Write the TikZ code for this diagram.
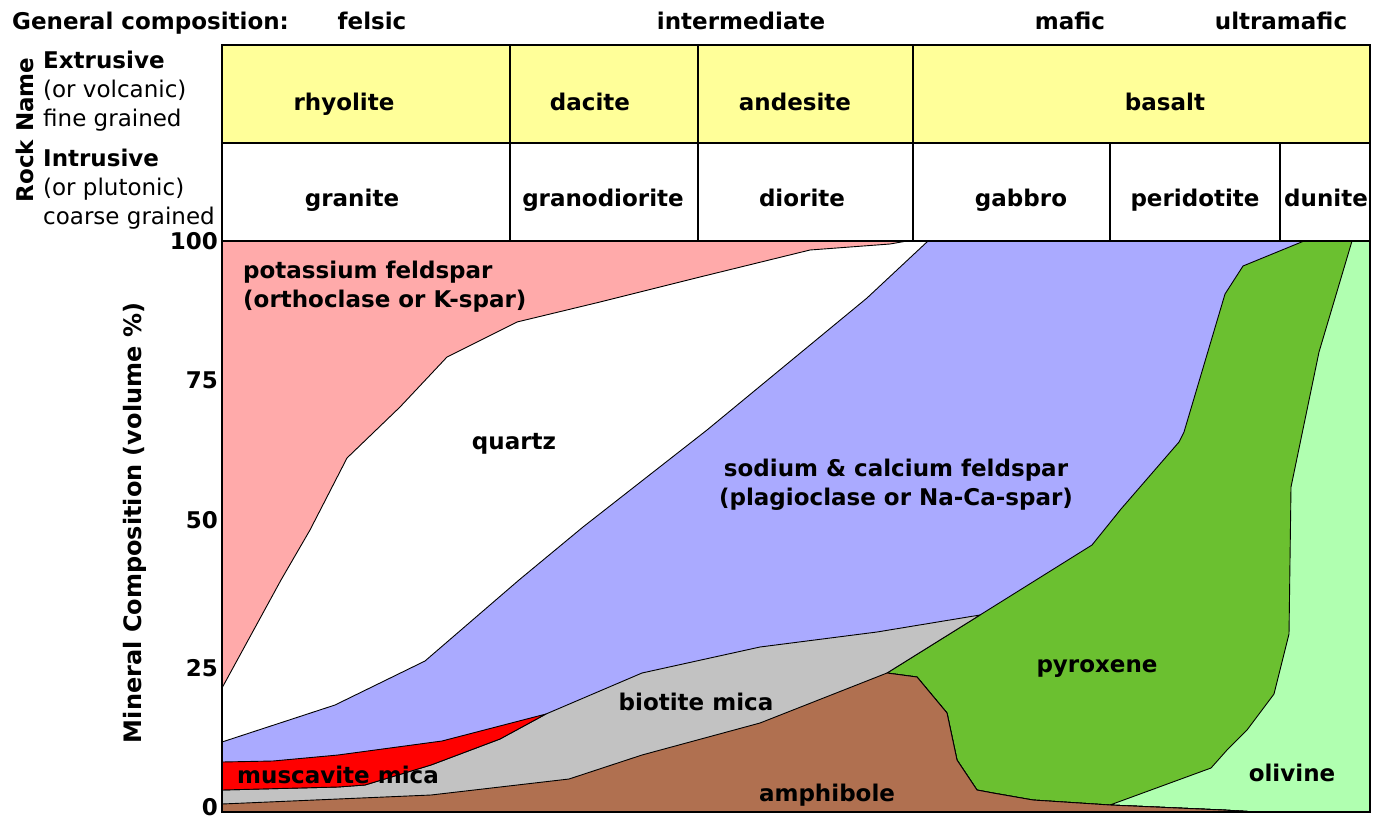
\documentclass[tikz,border=0pt]{standalone}
\usepackage{fontspec}
\setmainfont{DejaVu Sans}
\definecolor{kspar}{RGB}{255,170,170}
\definecolor{plag}{RGB}{170,170,255}
\definecolor{musc}{RGB}{255,0,0}
\definecolor{biot}{RGB}{194,194,194}
\definecolor{amph}{RGB}{176,112,80}
\definecolor{pyrox}{RGB}{107,192,48}
\definecolor{oliv}{RGB}{176,255,176}
\definecolor{volc}{RGB}{255,255,153}
\begin{document}
\begin{tikzpicture}[x=1pt, y=-1pt]
	\tikzstyle{lbl}=[font=\fontsize{23}{29}\selectfont\bfseries, inner sep=0pt, anchor=base]
	\tikzstyle{note}=[font=\fontsize{23}{29}\selectfont, inner sep=0pt, anchor=base west, align=left]
	\tikzstyle{zone}=[draw=black, line width=0.9pt, line join=round]
	\useasboundingbox (0,0) rectangle (1381,819);
	% mineral fields, back to front
	\path[fill=oliv] (222,241) rectangle (1370,812);
	\path[zone, fill=pyrox] (222,241) -- (1352,241) -- (1319,352) -- (1291,487) -- (1289,634) -- (1274,694) -- (1247,730) -- (1227,750) -- (1211,768) -- (1110,805) -- (1223,810) -- (1257,812) -- (222,812) -- cycle;
	\path[zone, fill=plag] (222,241) -- (1304,241) -- (1243,266) -- (1225,294) -- (1184,432) -- (1179,442) -- (1121,509) -- (1092,545) -- (980,615) -- (887,673) -- (917,677) -- (947,713) -- (957,760) -- (977,790) -- (993,793) -- (1033,800) -- (1110,805) -- (1223,810) -- (1257,812) -- (222,812) -- cycle;
	\path[zone, fill=biot] (222,790) -- (338,787) -- (365,785) -- (431,765) -- (500,739) -- (546,714) -- (642,673) -- (760,647) -- (877,632) -- (980,615) -- (887,673) -- (917,677) -- (947,713) -- (957,760) -- (977,790) -- (993,793) -- (1033,800) -- (1110,805) -- (1223,810) -- (1257,812) -- (222,812) -- cycle;
	\path[zone, fill=musc] (222,762) -- (273,761) -- (338,755) -- (442,741) -- (546,714) -- (500,739) -- (431,765) -- (365,785) -- (338,787) -- (222,790) -- cycle;
	\path[zone, fill=amph] (222,804) -- (338,799) -- (431,795) -- (569,779) -- (642,755) -- (760,723) -- (887,673) -- (917,677) -- (947,713) -- (957,760) -- (977,790) -- (993,793) -- (1033,800) -- (1110,805) -- (1223,810) -- (1257,812) -- (222,812) -- cycle;
	\path[zone, fill=white] (222,241) -- (928,241) -- (867,298) -- (707,430) -- (583,527) -- (519,580) -- (425,661) -- (335,705) -- (222,742) -- cycle;
	\path[zone, fill=kspar] (222,241) -- (907,241) -- (890,244) -- (810,250) -- (700,277) -- (600,302) -- (517,322) -- (447,357) -- (400,407) -- (347,458) -- (310,530) -- (281,580) -- (222,688) -- cycle;
	\draw[line width=1.6pt] (222,241) rectangle (1370,812);
	% rock name table
	\filldraw[fill=volc, line width=1.6pt] (222,45) rectangle (1370,143);
	\draw[line width=1.6pt] (222,143) rectangle (1370,241);
	\foreach \x in {510,698,913}
		\draw[line width=1.2pt] (\x,45) -- (\x,241);
	\foreach \x in {1110,1280}
		\draw[line width=1.2pt] (\x,143) -- (\x,241);
	\node[lbl, anchor=base west] (genc) at (12,29) {General composition:};
	\node[lbl] (felsic) at (372,29) {felsic};
	\node[lbl] (inter) at (741,29) {intermediate};
	\node[lbl] (mafic) at (1070,29) {mafic};
	\node[lbl] (umafic) at (1281,29) {ultramafic};
	\node[lbl] (rhyolite) at (344,110) {rhyolite};
	\node[lbl] (dacite) at (590,110) {dacite};
	\node[lbl] (andesite) at (795,110) {andesite};
	\node[lbl] (basalt) at (1165,110) {basalt};
	\node[lbl] (granite) at (352,206) {granite};
	\node[lbl] (granodiorite) at (603,206) {granodiorite};
	\node[lbl] (diorite) at (802,206) {diorite};
	\node[lbl] (gabbro) at (1021,206) {gabbro};
	\node[lbl] (peridotite) at (1195,206) {peridotite};
	\node[lbl] (dunite) at (1326,206) {dunite};
	\node[lbl, rotate=90] (rockname) at (33,130) {Rock Name};
	% multi-line notes sit on the baseline of their last line
	\node[note] (extrusive) at (43,126) {{\bfseries Extrusive}\\(or volcanic)\\fine grained};
	\node[note] (intrusive) at (43,224) {{\bfseries Intrusive}\\(or plutonic)\\coarse grained};
	% axis
	\node[lbl, rotate=90, font=\fontsize{24}{29}\selectfont\bfseries] (ylabel) at (141,523) {Mineral Composition (volume \%)};
	\foreach \v/\y in {100/249, 75/388, 50/528, 25/676, 0/815}
		\node[lbl, anchor=base east] (tick\v) at (218,\y) {\v};
	% mineral names
	\node[lbl, anchor=base west, align=left] (kname) at (243,307) {potassium feldspar\\(orthoclase or K-spar)};
	\node[lbl] (qname) at (514,449) {quartz};
	\node[lbl, align=center] (pname) at (896,505) {sodium \& calcium feldspar\\(plagioclase or Na-Ca-spar)};
	\node[lbl] (bname) at (696,710) {biotite mica};
	\node[lbl] (mname) at (338,783) {muscavite mica};
	\node[lbl] (aname) at (827,801) {amphibole};
	\node[lbl] (xname) at (1097,672) {pyroxene};
	\node[lbl] (oname) at (1292,781) {olivine};
\end{tikzpicture}
\end{document}
